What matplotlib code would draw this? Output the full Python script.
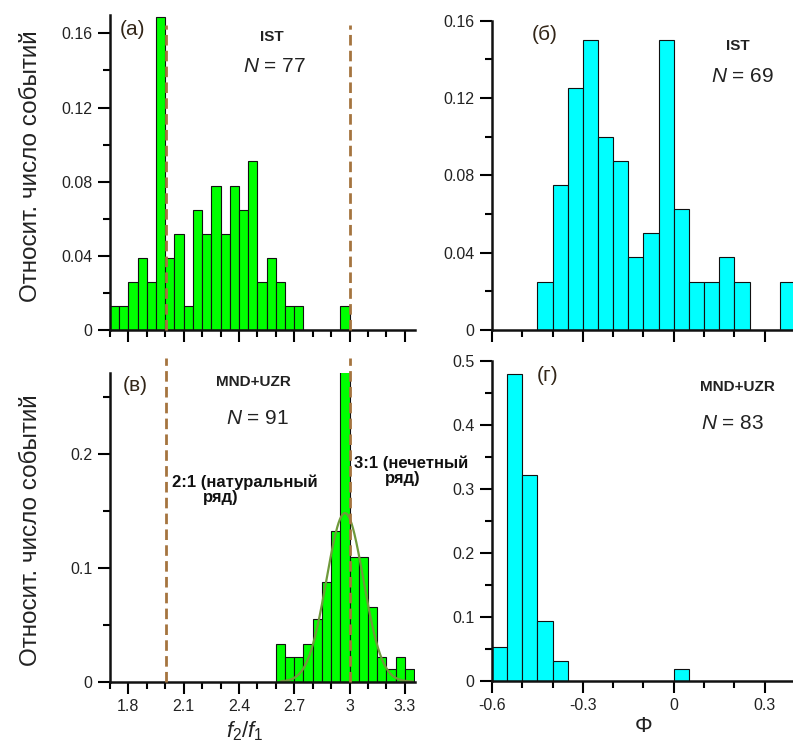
import numpy as np
import matplotlib
matplotlib.use('Agg')
import matplotlib.pyplot as plt
from matplotlib.ticker import MultipleLocator, FixedLocator, FixedFormatter

plt.rcParams['font.family'] = ['Liberation Sans', 'DejaVu Sans']
plt.rcParams['mathtext.fontset'] = 'custom'
plt.rcParams['mathtext.it'] = 'Liberation Sans:italic'
plt.rcParams['mathtext.rm'] = 'Liberation Sans'

# (a) IST, f2/f1, bins of 0.05 starting at 1.70
ratio_ist_left = [1.70, 1.75, 1.80, 1.85, 1.90, 1.95, 2.00, 2.05, 2.10, 2.15, 2.20, 2.25, 2.30,
                  2.35, 2.40, 2.45, 2.50, 2.55, 2.60, 2.65, 2.70, 2.75, 2.80, 2.85, 2.90, 2.95]
ratio_ist_counts = [1, 1, 2, 3, 2, 13, 3, 4, 1, 5, 4, 6, 4, 6, 5, 7, 2, 3, 2, 1, 1, 0, 0, 0, 0, 1]
n_ratio_ist = 77

# (в) MND+UZR, f2/f1
ratio_mnd_left = [2.60, 2.65, 2.70, 2.75, 2.80, 2.85, 2.90, 2.95, 3.00, 3.05, 3.10, 3.15, 3.20, 3.25, 3.30]
ratio_mnd_counts = [3, 2, 2, 3, 5, 8, 12, 25, 10, 10, 6, 2, 1, 2, 1]
n_ratio_mnd = 91
# gaussian fit shown over (в)
fit_mu, fit_sigma, fit_amp = 2.975, 0.10, 0.148
fit_range = (2.63, 3.34)

# (б) IST, phase
phi_ist_left = [-0.45, -0.40, -0.35, -0.30, -0.25, -0.20, -0.15, -0.10, -0.05, 0.00,
                0.05, 0.10, 0.15, 0.20, 0.25, 0.30, 0.35]
phi_ist_height = [0.025, 0.075, 0.125, 0.15, 0.10, 0.0875, 0.0375, 0.05, 0.15, 0.0625,
                  0.025, 0.025, 0.0375, 0.025, 0.0, 0.0, 0.025]

# (г) MND+UZR, phase
phi_mnd_left = [-0.60, -0.55, -0.50, -0.45, -0.40, 0.00]
phi_mnd_height = [0.052, 0.479, 0.322, 0.094, 0.031, 0.019]

bw = 0.05
green = '#00ff00'
cyan = '#00ffff'
edge = '#111111'
dash_col = '#a5743f'
txt = '#222222'
ylab = 'Относит. число событий'

fig = plt.figure(figsize=(7.93, 7.52), dpi=100)
ax_a = fig.add_axes([0.1387, 0.5612, 0.3846, 0.4191])
ax_b = fig.add_axes([0.6204, 0.5612, 0.3821, 0.4113])
ax_c = fig.add_axes([0.1387, 0.0935, 0.3846, 0.4105])
ax_d = fig.add_axes([0.6204, 0.0948, 0.3821, 0.4255])


def style(ax):
    for s in ['top', 'right']:
        ax.spines[s].set_visible(False)
    for s in ['left', 'bottom']:
        ax.spines[s].set_linewidth(1.8)
        ax.spines[s].set_color('#111111')
    ax.tick_params(which='major', length=8.5, width=1.5, direction='out',
                   labelsize=11.5, labelcolor=txt, pad=4)
    ax.tick_params(which='minor', length=5, width=1.5, direction='out')


# (a)
ax_a.bar(ratio_ist_left, np.array(ratio_ist_counts) / n_ratio_ist, width=bw, align='edge',
         color=green, edgecolor=edge, linewidth=0.8)
# (в)
ax_c.bar(ratio_mnd_left, np.array(ratio_mnd_counts) / n_ratio_mnd, width=bw, align='edge',
         color=green, edgecolor=edge, linewidth=0.8)
xf = np.linspace(fit_range[0], fit_range[1], 200)
ax_c.plot(xf, fit_amp * np.exp(-0.5 * ((xf - fit_mu) / fit_sigma) ** 2),
          color='#6f9a3c', lw=1.6)

for ax, ylim, ytop in [(ax_a, 0.17, 0.968), (ax_c, 0.271, 1.05)]:
    style(ax)
    ax.set_xlim(1.70, 3.355)
    ax.set_ylim(0, ylim)
    ax.xaxis.set_major_locator(FixedLocator([1.8, 2.1, 2.4, 2.7, 3.0, 3.3]))
    ax.xaxis.set_minor_locator(MultipleLocator(0.1))
    for xv in (2.005, 3.0):
        ax.axvline(xv, ymin=0, ymax=ytop, color=dash_col, lw=2.0,
                   dashes=(3.8, 1.9), clip_on=False, zorder=5)
    ax.set_ylabel(ylab, fontsize=17.5, color=txt)

ax_a.yaxis.set_major_locator(FixedLocator([0, 0.04, 0.08, 0.12, 0.16]))
ax_a.yaxis.set_major_formatter(FixedFormatter(['0', '0.04', '0.08', '0.12', '0.16']))
ax_a.yaxis.set_minor_locator(MultipleLocator(0.02))
ax_a.set_xticklabels([])
ax_a.yaxis.set_label_coords(-0.223, 0.52)

ax_c.yaxis.set_major_locator(FixedLocator([0, 0.1, 0.2]))
ax_c.yaxis.set_major_formatter(FixedFormatter(['0', '0.1', '0.2']))
ax_c.yaxis.set_minor_locator(MultipleLocator(0.05))
ax_c.xaxis.set_major_formatter(FixedFormatter(['1.8', '2.1', '2.4', '2.7', '3', '3.3']))
ax_c.yaxis.set_label_coords(-0.223, 0.49)
ax_c.set_xlabel(r'$f_2/f_1$', fontsize=16, color=txt, x=0.443, labelpad=4)

# (б)
ax_b.bar(phi_ist_left, phi_ist_height, width=bw, align='edge',
         color=cyan, edgecolor=edge, linewidth=0.8)
# (г)
ax_d.bar(phi_mnd_left, phi_mnd_height, width=bw, align='edge',
         color=cyan, edgecolor=edge, linewidth=0.8)

for ax, ylim in [(ax_b, 0.16), (ax_d, 0.5)]:
    style(ax)
    ax.set_xlim(-0.6, 0.4)
    ax.set_ylim(0, ylim)
    ax.xaxis.set_major_locator(FixedLocator([-0.6, -0.3, 0.0, 0.3]))
    ax.xaxis.set_minor_locator(MultipleLocator(0.1))

ax_b.yaxis.set_major_locator(FixedLocator([0, 0.04, 0.08, 0.12, 0.16]))
ax_b.yaxis.set_major_formatter(FixedFormatter(['0', '0.04', '0.08', '0.12', '0.16']))
ax_b.yaxis.set_minor_locator(MultipleLocator(0.02))
ax_b.set_xticklabels([])

ax_d.yaxis.set_major_locator(FixedLocator([0, 0.1, 0.2, 0.3, 0.4, 0.5]))
ax_d.yaxis.set_major_formatter(FixedFormatter(['0', '0.1', '0.2', '0.3', '0.4', '0.5']))
ax_d.yaxis.set_minor_locator(MultipleLocator(0.05))
ax_d.xaxis.set_major_formatter(FixedFormatter(['-0.6', '-0.3', '0', '0.3']))
ax_d.set_xlabel('Φ', fontsize=16, color=txt, labelpad=2)

# panel labels and annotations
panels = [
    (ax_a, '(a)', (0.075, 0.952), 'IST', (0.531, 0.930), '77', (0.541, 0.835)),
    (ax_b, '(б)', (0.175, 0.954), 'IST', (0.812, 0.918), '69', (0.828, 0.818)),
    (ax_c, '(в)', (0.082, 0.961), 'MND+UZR', (0.469, 0.971), '91', (0.485, 0.854)),
    (ax_d, '(г)', (0.185, 0.955), 'MND+UZR', (0.809, 0.918), '83', (0.795, 0.805)),
]
for ax, lab, lp, grp, gp, n, npos in panels:
    ax.text(*lp, lab, transform=ax.transAxes, fontsize=15, color='#332618',
            ha='center', va='center')
    ax.text(*gp, grp, transform=ax.transAxes, fontsize=11, fontweight='bold',
            color=txt, ha='center', va='center')
    ax.text(*npos, r'$\mathit{N}$ = ' + n, transform=ax.transAxes, fontsize=15,
            color=txt, ha='center', va='center')

# series labels next to the dashed lines, one text per line
note_kw = dict(transform=ax_c.transAxes, fontsize=12, fontweight='bold',
               color='#111111', ha='left', va='top', clip_on=False)
ax_c.text(0.203, 0.670, '2:1 (натуральный', **note_kw)
ax_c.text(0.305, 0.620, 'ряд)', **note_kw)
ax_c.text(0.800, 0.734, '3:1 (нечетный', **note_kw)
ax_c.text(0.903, 0.684, 'ряд)', **note_kw)

fig.savefig('out.png', dpi=100, facecolor='white')
